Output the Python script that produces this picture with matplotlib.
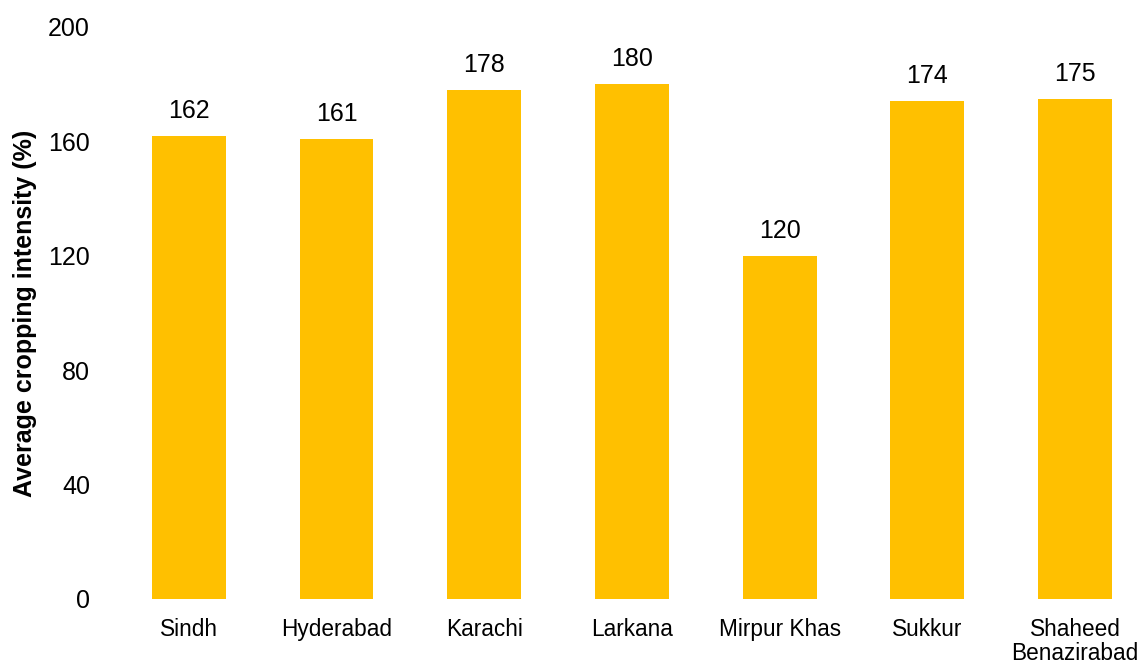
import numpy as np
import matplotlib.pyplot as plt

plt.rcParams['font.family'] = ['Liberation Sans', 'DejaVu Sans']

regions = ['Sindh', 'Hyderabad', 'Karachi', 'Larkana', 'Mirpur Khas', 'Sukkur',
           'Shaheed\nBenazirabad']
intensity = [162, 161, 178, 180, 120, 174, 175]
yticks = [0, 40, 80, 120, 160, 200]

fig = plt.figure(figsize=(11.37, 6.69), dpi=100)
ax = fig.add_axes([115 / 1137, 70 / 669, 1022 / 1137, 572 / 669])

x = np.arange(len(regions))
bars = ax.bar(x, intensity, width=0.5, color='#FFC000')
for xi, v in zip(x, intensity):
    ax.text(xi, v + 4.5, str(v), ha='center', va='bottom', fontsize=18)

ax.set_xlim(-0.5, 6.42)
ax.set_ylim(0, 200)
ax.set_yticks(yticks)
ax.set_xticks(x)
ax.set_xticklabels(regions, fontsize=16.3, va='top', linespacing=1.05)
ax.tick_params(axis='y', labelsize=18, length=0, pad=18)
ax.tick_params(axis='x', length=0, pad=14)
for s in ax.spines.values():
    s.set_visible(False)
ax.set_ylabel('Average cropping intensity (%)', fontsize=18, fontweight='bold', labelpad=8)

fig.savefig('out.png', dpi=100)
